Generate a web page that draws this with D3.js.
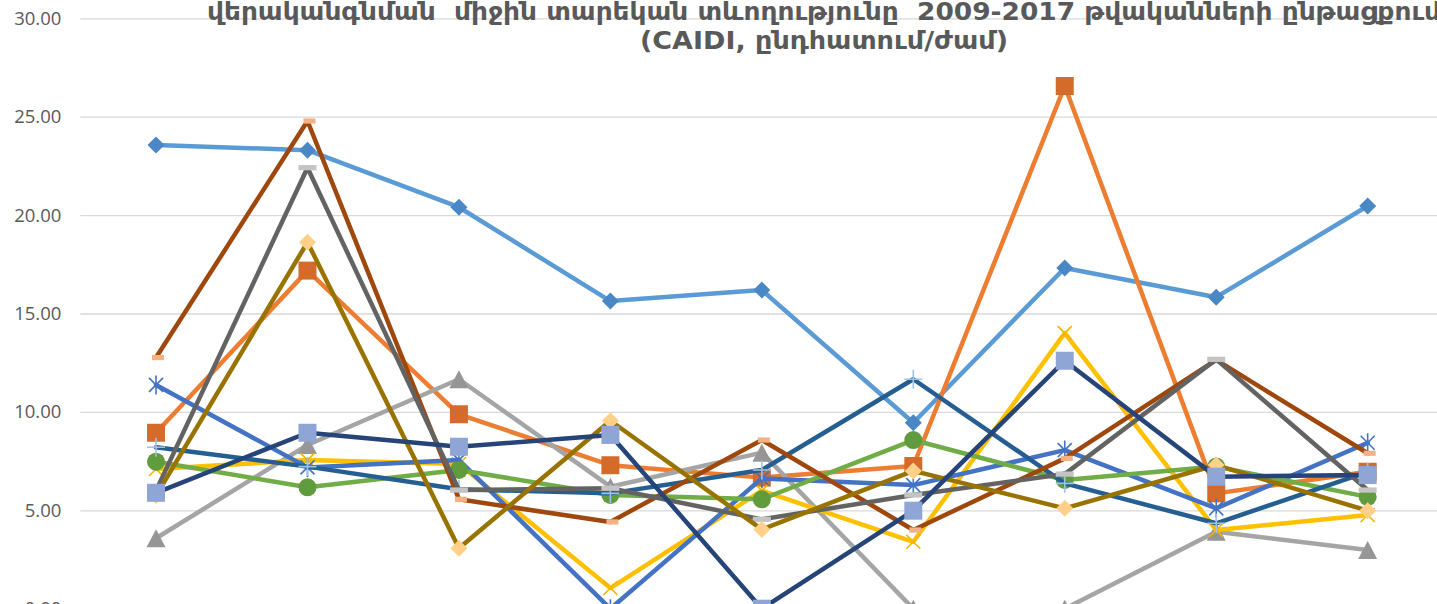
<!DOCTYPE html>
<html>
<head>
<meta charset="utf-8">
<script src="https://d3js.org/d3.v7.min.js"></script>
<style>
	body { margin: 0; background: #fff; }
	svg { display: block; }
</style>
</head>
<body>
<script>

// categories (the x axis sits below the visible crop)
const years = ["2009", "2010", "2011", "2012", "2013", "2014", "2015", "2016", "2017"];
const yTicks = [0, 5, 10, 15, 20, 25, 30];
const titleLines = [
	"վերականգնման  միջին տարեկան տևողությունը  2009-2017 թվականների ընթացքում",
	"(CAIDI, ընդհատում/ժամ)"
];

// series values
const s1  = [23.56, 23.30, 20.40, 15.63, 16.19, 9.45, 17.31, 15.83, 20.46];
const s2  = [8.94, 17.18, 9.88, 7.29, 6.66, 7.25, 26.56, 5.86, 6.96];
const s3  = [3.58, 8.32, 11.66, 6.20, 7.93, 0, 0, 3.91, 2.98];
const s4  = [7.10, 7.55, 7.35, 1.05, 6.00, 3.40, 14.00, 4.00, 4.76];
const s5  = [11.37, 7.18, 7.55, 0, 6.62, 6.28, 8.06, 5.10, 8.43];
const s6  = [7.47, 6.17, 7.05, 5.78, 5.56, 8.57, 6.54, 7.22, 5.68];
const s7  = [8.20, 7.22, 6.07, 5.86, 7.05, 11.66, 6.37, 4.34, 6.95];
const s8  = [12.76, 24.78, 5.56, 4.41, 8.57, 4.00, 7.64, 12.64, 7.90];
const s9  = [6.00, 22.41, 6.03, 6.12, 4.54, 5.78, 6.84, 12.67, 6.03];
const s10 = [5.75, 18.62, 3.07, 9.55, 4.03, 7.00, 5.10, 7.30, 4.98];
const s11 = [5.89, 8.94, 8.23, 8.83, 0, 4.98, 12.60, 6.71, 6.79];

const allSeries = [s1, s2, s3, s4, s5, s6, s7, s8, s9, s10, s11];

// Excel-like styling per series
const lineColors   = ["#5b9bd5", "#ed7d31", "#a5a5a5", "#ffc000", "#4472c4", "#70ad47", "#255e91", "#9e480e", "#636363", "#997300", "#264478"];
const markerKinds  = ["diamond", "square", "triangle", "x", "star", "circle", "plus", "dashS", "dash", "diamond", "square"];
const markerColors = ["#4a87c5", "#d56b2a", "#969696", "#f2b500", "#4472c4", "#609b3d", "#9dc3e6", "#f4b183", "#c4c4c4", "#ffd08a", "#8fa5d6"];

const W = 1437, H = 604;

const svg = d3.select("body")
	.append("svg")
	.attr("width", W)
	.attr("height", H);

const x = d3.scalePoint()
	.domain(years)
	.range([80.3, 1443.4])
	.padding(0.5);

const y = d3.scaleLinear()
	.domain([0, 30])
	.range([608.7, 18.3]);

// y axis with gridlines
svg.append("g")
	.attr("class", "yAxis")
	.attr("transform", "translate(80.3,0)")
	.call(d3.axisLeft(y)
		.tickValues(yTicks)
		.tickFormat(d3.format(".2f"))
		.tickSize(-(1443.4 - 80.3))
		.tickPadding(19))
	.call(g => g.select(".domain").remove())
	.call(g => g.selectAll(".tick line")
		.attr("stroke", "#d9d9d9")
		.attr("stroke-width", 1.3))
	.call(g => g.selectAll(".tick text")
		.attr("fill", "#595959")
		.style("font-family", "'Open Sans', 'Noto Sans', sans-serif")
		.style("font-size", "18.5px"));

// x axis at zero (its labels fall below the crop)
svg.append("g")
	.attr("transform", "translate(0," + y(0) + ")")
	.call(d3.axisBottom(x).tickSize(0).tickPadding(10))
	.call(g => g.select(".domain").attr("stroke", "#d9d9d9"))
	.call(g => g.selectAll("text")
		.attr("fill", "#595959")
		.style("font-family", "'Open Sans', 'Noto Sans', sans-serif")
		.style("font-size", "18.5px"));

// title
const titleWidths = [1234, 368];
const titleY = [20, 48.5];
svg.append("g")
	.selectAll("text")
	.data(titleLines)
	.enter()
	.append("text")
	.attr("x", 824)
	.attr("y", (d, i) => titleY[i])
	.attr("text-anchor", "middle")
	.attr("fill", "#595959")
	.attr("textLength", (d, i) => titleWidths[i])
	.attr("lengthAdjust", "spacingAndGlyphs")
	.style("white-space", "pre")
	.style("font-family", "'DejaVu Sans', sans-serif")
	.style("font-weight", "bold")
	.style("font-size", "24.5px")
	.text(d => d);

function markerPath(kind) {
	switch (kind) {
		case "diamond":  return "M0,-8.5L8.5,0L0,8.5L-8.5,0Z";
		case "square":   return "M-9,-9H9V9H-9Z";
		case "triangle": return "M0,-9L9.5,9H-9.5Z";
		case "circle":   return "M9,0A9,9 0 1,1 -9,0A9,9 0 1,1 9,0Z";
		case "x":        return "M-7,-7L7,7M-7,7L7,-7";
		case "star":     return "M-7,-7L7,7M-7,7L7,-7M0,-9.5V9.5";
		case "plus":     return "M-9,0H9M0,-9.5V9.5";
		case "dashS":    return "M-4,-2.6H8V2.6H-4Z";
		case "dash":     return "M-9,-2.6H9V2.6H-9Z";
	}
}
const strokeOnly = ["x", "star", "plus"];

const line = d3.line()
	.x((d, i) => x(years[i]))
	.y(d => y(d));

const seriesG = svg.selectAll(".series")
	.data(allSeries)
	.enter()
	.append("g")
	.attr("class", "series");

seriesG.append("path")
	.attr("d", d => line(d))
	.attr("fill", "none")
	.attr("stroke", (d, i) => lineColors[i])
	.attr("stroke-width", 4.5)
	.attr("stroke-linejoin", "round")
	.attr("stroke-linecap", "round");

seriesG.each(function(vals, si) {
	const kind = markerKinds[si];
	const isStroke = strokeOnly.includes(kind);
	d3.select(this).selectAll(".marker")
		.data(vals)
		.enter()
		.append("path")
		.attr("class", "marker")
		.attr("transform", (d, i) => "translate(" + x(years[i]) + "," + y(d) + ")")
		.attr("d", markerPath(kind))
		.attr("fill", isStroke ? "none" : markerColors[si])
		.attr("stroke", isStroke ? markerColors[si] : "none")
		.attr("stroke-width", isStroke ? 1.6 : 0);
});

</script>
</body>
</html>
